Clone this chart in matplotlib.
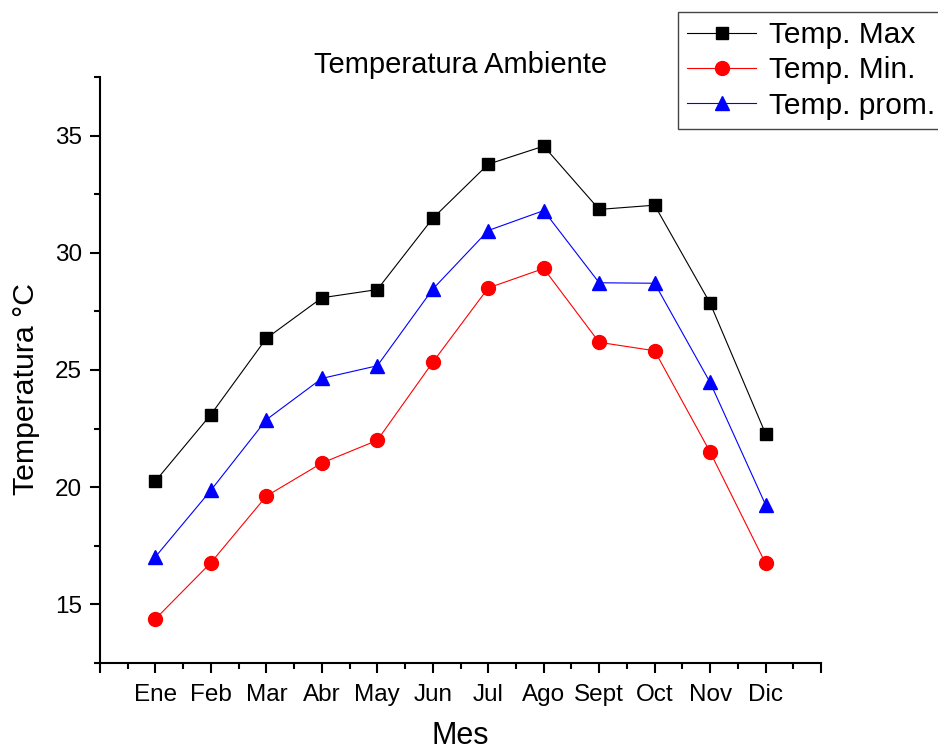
#!/usr/bin/env python

import numpy as np
import matplotlib.pyplot as plt
from matplotlib.ticker import MultipleLocator

plt.rcParams['font.family'] = ['Liberation Sans', 'DejaVu Sans']

## datos
meses = ['Ene', 'Feb', 'Mar', 'Abr', 'May', 'Jun', 'Jul', 'Ago', 'Sept', 'Oct', 'Nov', 'Dic']
tmax = [20.26, 23.1, 26.35, 28.08, 28.43, 31.47, 33.78, 34.55, 31.85, 32.03, 27.85, 22.28]
tmin = [14.38, 16.78, 19.62, 21.03, 22.0, 25.33, 28.5, 29.33, 26.18, 25.82, 21.5, 16.75]
tprom = [17.03, 19.87, 22.88, 24.64, 25.18, 28.45, 30.95, 31.8, 28.72, 28.7, 24.47, 19.25]

x = np.arange(1, len(meses) + 1)

fig = plt.figure(figsize=(9.38, 7.51), dpi=100)
ax = fig.add_axes([0.1066, 0.1172, 0.7687, 0.7803])

ax.plot(x, tmax, color='black', lw=0.8, marker='s', ms=9, label='Temp. Max')
ax.plot(x, tmin, color='red', lw=0.8, marker='o', ms=10, label='Temp. Min.')
ax.plot(x, tprom, color='blue', lw=0.8, marker='^', ms=10.5, label='Temp. prom.')

ax.set_xlim(0, 13)
ax.set_ylim(12.5, 37.5)
ax.set_xticks(np.arange(0, 14))
ax.set_xticklabels([''] + meses + [''])
ax.xaxis.set_minor_locator(MultipleLocator(0.5))
ax.set_yticks([15, 20, 25, 30, 35])
ax.yaxis.set_minor_locator(MultipleLocator(2.5))

ax.spines['top'].set_visible(False)
ax.spines['right'].set_visible(False)
for s in ['left', 'bottom']:
    ax.spines[s].set_linewidth(1.5)
ax.tick_params(which='major', direction='out', length=7, width=1.5, labelsize=17.5)
ax.tick_params(which='minor', direction='out', length=4, width=1.5)
ax.tick_params(axis='x', labelsize=17.5, pad=8)
ax.tick_params(axis='y', pad=6)

ax.set_xlabel('Mes', fontsize=22, labelpad=11)
ax.set_ylabel('Temperatura °C', fontsize=21.8)
ax.yaxis.set_label_coords(-0.083, 0.4676)
ax.set_title('Temperatura Ambiente', fontsize=21, pad=3, y=1.0)

leg = fig.legend(loc='upper right', bbox_to_anchor=(1.007, 0.984), fontsize=21.5,
                 frameon=True, fancybox=False, edgecolor='#444444', framealpha=1,
                 handlelength=2.3, borderpad=0.3, labelspacing=0.25, handletextpad=0.45,
                 borderaxespad=0)
leg.get_frame().set_linewidth(1.0)

fig.savefig('out.png', dpi=100)
